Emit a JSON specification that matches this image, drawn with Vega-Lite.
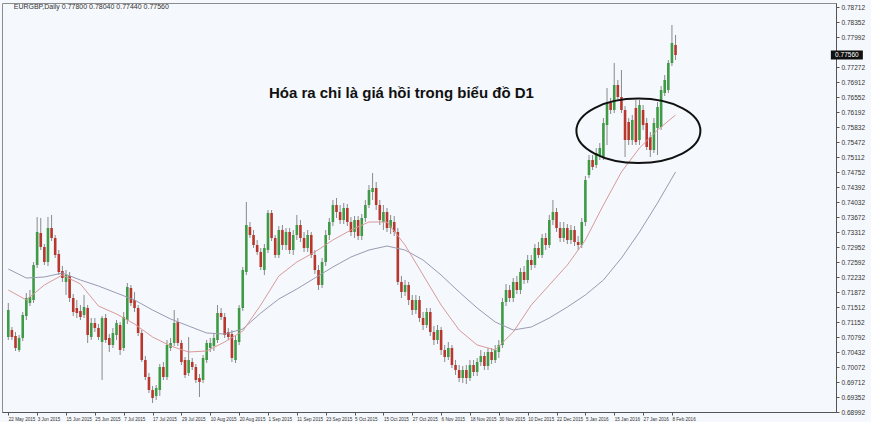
{
  "$schema": "https://vega.github.io/schema/vega-lite/v6.json",
  "width": 834,
  "height": 409,
  "autosize": "none",
  "padding": {"left": 2, "top": 3, "right": 35, "bottom": 10},
  "background": "#f5f8fc",
  "config": {"view": {"stroke": "#8c8c8c", "fill": "#f5f8fc"}, "font": "Liberation Sans", "axis": {"labelOverlap": false, "labelFlush": false, "labelBound": false}},
  "datasets": {
    "candles": [
      {"i":0,"o":0.70792,"h":0.71608,"l":0.70720,"c":0.71440},
      {"i":1,"o":0.70960,"h":0.71032,"l":0.70720,"c":0.70792},
      {"i":2,"o":0.70816,"h":0.70912,"l":0.70456,"c":0.70528},
      {"i":3,"o":0.70480,"h":0.70840,"l":0.70432,"c":0.70768},
      {"i":4,"o":0.70768,"h":0.71392,"l":0.70696,"c":0.71320},
      {"i":5,"o":0.71296,"h":0.71848,"l":0.71200,"c":0.71728},
      {"i":6,"o":0.71608,"h":0.71920,"l":0.71536,"c":0.71752},
      {"i":7,"o":0.71680,"h":0.72592,"l":0.71608,"c":0.72520},
      {"i":8,"o":0.72520,"h":0.73672,"l":0.72448,"c":0.73312},
      {"i":9,"o":0.73288,"h":0.73648,"l":0.72880,"c":0.72952},
      {"i":10,"o":0.72952,"h":0.73024,"l":0.72520,"c":0.72592},
      {"i":11,"o":0.72592,"h":0.73672,"l":0.72496,"c":0.73408},
      {"i":12,"o":0.73408,"h":0.73720,"l":0.73096,"c":0.73168},
      {"i":13,"o":0.73168,"h":0.73240,"l":0.72688,"c":0.72760},
      {"i":14,"o":0.72784,"h":0.72880,"l":0.72280,"c":0.72352},
      {"i":15,"o":0.72376,"h":0.72496,"l":0.72112,"c":0.72208},
      {"i":16,"o":0.72112,"h":0.72400,"l":0.71800,"c":0.72280},
      {"i":17,"o":0.72256,"h":0.72352,"l":0.71632,"c":0.71728},
      {"i":18,"o":0.71728,"h":0.71824,"l":0.71296,"c":0.71392},
      {"i":19,"o":0.71488,"h":0.71680,"l":0.71248,"c":0.71368},
      {"i":20,"o":0.71416,"h":0.71560,"l":0.71200,"c":0.71272},
      {"i":21,"o":0.71320,"h":0.71800,"l":0.71248,"c":0.71512},
      {"i":22,"o":0.71488,"h":0.71560,"l":0.70648,"c":0.70840},
      {"i":23,"o":0.70792,"h":0.71248,"l":0.70720,"c":0.71128},
      {"i":24,"o":0.71128,"h":0.71248,"l":0.70912,"c":0.71008},
      {"i":25,"o":0.71008,"h":0.71104,"l":0.70720,"c":0.70792},
      {"i":26,"o":0.70672,"h":0.71296,"l":0.69760,"c":0.71248},
      {"i":27,"o":0.71248,"h":0.71344,"l":0.70648,"c":0.70720},
      {"i":28,"o":0.70768,"h":0.70864,"l":0.70432,"c":0.70600},
      {"i":29,"o":0.70600,"h":0.71008,"l":0.70528,"c":0.70888},
      {"i":30,"o":0.70840,"h":0.71200,"l":0.70720,"c":0.71128},
      {"i":31,"o":0.71080,"h":0.71152,"l":0.70360,"c":0.70480},
      {"i":32,"o":0.70528,"h":0.71392,"l":0.70456,"c":0.71272},
      {"i":33,"o":0.71200,"h":0.72088,"l":0.71104,"c":0.71992},
      {"i":34,"o":0.71968,"h":0.72040,"l":0.71536,"c":0.71608},
      {"i":35,"o":0.71680,"h":0.71872,"l":0.71392,"c":0.71488},
      {"i":36,"o":0.71488,"h":0.71560,"l":0.70816,"c":0.70888},
      {"i":37,"o":0.70888,"h":0.70960,"l":0.70192,"c":0.70240},
      {"i":38,"o":0.70240,"h":0.70336,"l":0.69760,"c":0.69832},
      {"i":39,"o":0.69832,"h":0.69928,"l":0.69448,"c":0.69520},
      {"i":40,"o":0.69520,"h":0.69616,"l":0.69208,"c":0.69328},
      {"i":41,"o":0.69376,"h":0.69640,"l":0.69280,"c":0.69568},
      {"i":42,"o":0.69520,"h":0.70144,"l":0.69376,"c":0.70072},
      {"i":43,"o":0.70072,"h":0.70192,"l":0.69760,"c":0.69832},
      {"i":44,"o":0.69832,"h":0.70720,"l":0.69760,"c":0.70600},
      {"i":45,"o":0.70528,"h":0.70768,"l":0.70456,"c":0.70648},
      {"i":46,"o":0.70648,"h":0.71440,"l":0.70576,"c":0.71128},
      {"i":47,"o":0.71152,"h":0.71248,"l":0.70576,"c":0.70648},
      {"i":48,"o":0.70648,"h":0.70720,"l":0.70120,"c":0.70192},
      {"i":49,"o":0.70240,"h":0.70312,"l":0.69808,"c":0.69880},
      {"i":50,"o":0.69928,"h":0.70792,"l":0.69856,"c":0.70240},
      {"i":51,"o":0.70192,"h":0.70288,"l":0.70000,"c":0.70072},
      {"i":52,"o":0.70072,"h":0.70144,"l":0.69688,"c":0.69760},
      {"i":53,"o":0.69808,"h":0.69904,"l":0.69352,"c":0.69712},
      {"i":54,"o":0.69760,"h":0.70360,"l":0.69688,"c":0.70288},
      {"i":55,"o":0.70240,"h":0.70720,"l":0.70168,"c":0.70648},
      {"i":56,"o":0.70528,"h":0.70768,"l":0.70432,"c":0.70648},
      {"i":57,"o":0.70576,"h":0.70888,"l":0.70456,"c":0.70768},
      {"i":58,"o":0.70720,"h":0.71560,"l":0.70648,"c":0.71368},
      {"i":59,"o":0.71368,"h":0.71488,"l":0.71200,"c":0.71272},
      {"i":60,"o":0.71272,"h":0.71368,"l":0.70768,"c":0.70840},
      {"i":61,"o":0.70912,"h":0.71008,"l":0.70720,"c":0.70792},
      {"i":62,"o":0.70864,"h":0.70960,"l":0.70192,"c":0.70288},
      {"i":63,"o":0.70240,"h":0.70816,"l":0.70168,"c":0.70720},
      {"i":64,"o":0.70672,"h":0.71560,"l":0.70600,"c":0.71488},
      {"i":65,"o":0.71488,"h":0.72472,"l":0.71416,"c":0.72400},
      {"i":66,"o":0.72352,"h":0.74032,"l":0.72280,"c":0.73480},
      {"i":67,"o":0.73432,"h":0.73552,"l":0.73168,"c":0.73240},
      {"i":68,"o":0.73240,"h":0.73360,"l":0.72928,"c":0.73000},
      {"i":69,"o":0.73000,"h":0.73120,"l":0.72760,"c":0.72832},
      {"i":70,"o":0.72832,"h":0.72928,"l":0.72400,"c":0.72472},
      {"i":71,"o":0.72400,"h":0.73024,"l":0.72280,"c":0.72928},
      {"i":72,"o":0.72880,"h":0.73840,"l":0.72808,"c":0.73768},
      {"i":73,"o":0.73768,"h":0.73840,"l":0.73096,"c":0.73168},
      {"i":74,"o":0.73168,"h":0.73240,"l":0.72688,"c":0.72760},
      {"i":75,"o":0.72760,"h":0.73456,"l":0.72688,"c":0.73360},
      {"i":76,"o":0.73360,"h":0.73480,"l":0.72880,"c":0.73000},
      {"i":77,"o":0.73000,"h":0.73408,"l":0.72880,"c":0.73312},
      {"i":78,"o":0.73312,"h":0.73408,"l":0.72784,"c":0.72880},
      {"i":79,"o":0.72880,"h":0.73360,"l":0.72760,"c":0.73240},
      {"i":80,"o":0.73240,"h":0.73720,"l":0.73120,"c":0.73480},
      {"i":81,"o":0.73480,"h":0.73600,"l":0.73072,"c":0.73168},
      {"i":82,"o":0.73168,"h":0.73312,"l":0.72832,"c":0.72928},
      {"i":83,"o":0.72928,"h":0.73360,"l":0.72832,"c":0.73240},
      {"i":84,"o":0.73240,"h":0.73312,"l":0.72688,"c":0.72760},
      {"i":85,"o":0.72760,"h":0.72880,"l":0.72304,"c":0.72400},
      {"i":86,"o":0.72400,"h":0.72520,"l":0.71920,"c":0.72040},
      {"i":87,"o":0.72040,"h":0.72688,"l":0.71968,"c":0.72592},
      {"i":88,"o":0.72592,"h":0.73360,"l":0.72496,"c":0.73240},
      {"i":89,"o":0.73240,"h":0.73648,"l":0.73120,"c":0.73552},
      {"i":90,"o":0.73552,"h":0.74080,"l":0.73456,"c":0.73960},
      {"i":91,"o":0.73960,"h":0.74128,"l":0.73648,"c":0.73792},
      {"i":92,"o":0.73792,"h":0.73960,"l":0.73504,"c":0.73600},
      {"i":93,"o":0.73600,"h":0.74008,"l":0.73504,"c":0.73888},
      {"i":94,"o":0.73888,"h":0.73984,"l":0.73456,"c":0.73552},
      {"i":95,"o":0.73552,"h":0.73672,"l":0.73216,"c":0.73312},
      {"i":96,"o":0.73312,"h":0.73696,"l":0.73168,"c":0.73600},
      {"i":97,"o":0.73600,"h":0.73696,"l":0.73120,"c":0.73216},
      {"i":98,"o":0.73216,"h":0.73744,"l":0.73120,"c":0.73648},
      {"i":99,"o":0.73648,"h":0.74080,"l":0.73552,"c":0.73960},
      {"i":100,"o":0.73960,"h":0.74440,"l":0.73888,"c":0.74320},
      {"i":101,"o":0.74272,"h":0.74728,"l":0.74080,"c":0.74368},
      {"i":102,"o":0.74368,"h":0.74512,"l":0.73840,"c":0.73960},
      {"i":103,"o":0.73960,"h":0.74080,"l":0.73480,"c":0.73600},
      {"i":104,"o":0.73552,"h":0.73960,"l":0.73360,"c":0.73792},
      {"i":105,"o":0.73792,"h":0.73888,"l":0.73312,"c":0.73408},
      {"i":106,"o":0.73408,"h":0.73720,"l":0.73264,"c":0.73600},
      {"i":107,"o":0.73552,"h":0.73696,"l":0.73216,"c":0.73312},
      {"i":108,"o":0.73312,"h":0.73408,"l":0.72040,"c":0.72112},
      {"i":109,"o":0.72112,"h":0.72256,"l":0.71728,"c":0.71872},
      {"i":110,"o":0.71872,"h":0.72160,"l":0.71776,"c":0.72040},
      {"i":111,"o":0.72040,"h":0.72112,"l":0.71560,"c":0.71680},
      {"i":112,"o":0.71680,"h":0.71800,"l":0.71320,"c":0.71440},
      {"i":113,"o":0.71440,"h":0.71800,"l":0.71344,"c":0.71680},
      {"i":114,"o":0.71680,"h":0.71776,"l":0.71152,"c":0.71248},
      {"i":115,"o":0.71248,"h":0.71392,"l":0.70960,"c":0.71080},
      {"i":116,"o":0.71080,"h":0.71488,"l":0.71008,"c":0.71392},
      {"i":117,"o":0.71392,"h":0.71488,"l":0.70816,"c":0.70912},
      {"i":118,"o":0.70912,"h":0.71056,"l":0.70600,"c":0.70720},
      {"i":119,"o":0.70720,"h":0.71080,"l":0.70624,"c":0.70960},
      {"i":120,"o":0.70960,"h":0.71032,"l":0.70360,"c":0.70480},
      {"i":121,"o":0.70480,"h":0.70600,"l":0.70192,"c":0.70312},
      {"i":122,"o":0.70312,"h":0.70672,"l":0.70240,"c":0.70528},
      {"i":123,"o":0.70528,"h":0.70600,"l":0.70048,"c":0.70120},
      {"i":124,"o":0.70120,"h":0.70240,"l":0.69880,"c":0.70000},
      {"i":125,"o":0.70000,"h":0.70120,"l":0.69712,"c":0.69808},
      {"i":126,"o":0.69808,"h":0.70096,"l":0.69688,"c":0.70000},
      {"i":127,"o":0.70000,"h":0.70120,"l":0.69664,"c":0.69808},
      {"i":128,"o":0.69808,"h":0.70240,"l":0.69736,"c":0.70120},
      {"i":129,"o":0.70120,"h":0.70240,"l":0.69856,"c":0.69952},
      {"i":130,"o":0.69952,"h":0.70288,"l":0.69856,"c":0.70192},
      {"i":131,"o":0.70192,"h":0.70480,"l":0.70096,"c":0.70336},
      {"i":132,"o":0.70336,"h":0.70432,"l":0.70000,"c":0.70096},
      {"i":133,"o":0.70096,"h":0.70528,"l":0.70000,"c":0.70432},
      {"i":134,"o":0.70432,"h":0.70528,"l":0.70144,"c":0.70240},
      {"i":135,"o":0.70240,"h":0.70600,"l":0.70168,"c":0.70480},
      {"i":136,"o":0.70432,"h":0.70720,"l":0.70288,"c":0.70600},
      {"i":137,"o":0.70600,"h":0.71728,"l":0.70528,"c":0.71632},
      {"i":138,"o":0.71632,"h":0.72064,"l":0.71536,"c":0.71920},
      {"i":139,"o":0.71920,"h":0.72040,"l":0.71632,"c":0.71728},
      {"i":140,"o":0.71728,"h":0.72208,"l":0.71632,"c":0.72112},
      {"i":141,"o":0.72112,"h":0.72256,"l":0.71824,"c":0.71920},
      {"i":142,"o":0.71920,"h":0.72448,"l":0.71824,"c":0.72352},
      {"i":143,"o":0.72352,"h":0.72496,"l":0.72064,"c":0.72160},
      {"i":144,"o":0.72160,"h":0.72760,"l":0.72088,"c":0.72640},
      {"i":145,"o":0.72640,"h":0.72760,"l":0.72400,"c":0.72520},
      {"i":146,"o":0.72520,"h":0.73024,"l":0.72448,"c":0.72928},
      {"i":147,"o":0.72928,"h":0.73072,"l":0.72688,"c":0.72760},
      {"i":148,"o":0.72760,"h":0.73264,"l":0.72688,"c":0.73168},
      {"i":149,"o":0.73168,"h":0.73288,"l":0.72880,"c":0.73000},
      {"i":150,"o":0.73000,"h":0.73720,"l":0.72928,"c":0.73600},
      {"i":151,"o":0.73600,"h":0.74080,"l":0.73480,"c":0.73792},
      {"i":152,"o":0.73792,"h":0.73888,"l":0.73312,"c":0.73408},
      {"i":153,"o":0.73408,"h":0.73552,"l":0.73072,"c":0.73168},
      {"i":154,"o":0.73168,"h":0.73552,"l":0.73072,"c":0.73408},
      {"i":155,"o":0.73408,"h":0.73504,"l":0.73024,"c":0.73120},
      {"i":156,"o":0.73120,"h":0.73480,"l":0.73024,"c":0.73360},
      {"i":157,"o":0.73360,"h":0.73456,"l":0.72976,"c":0.73072},
      {"i":158,"o":0.73072,"h":0.73216,"l":0.72880,"c":0.73000},
      {"i":159,"o":0.73000,"h":0.73648,"l":0.72928,"c":0.73552},
      {"i":160,"o":0.73552,"h":0.74656,"l":0.73456,"c":0.74560},
      {"i":161,"o":0.74680,"h":0.75160,"l":0.74608,"c":0.75040},
      {"i":162,"o":0.75040,"h":0.75160,"l":0.74800,"c":0.74872},
      {"i":163,"o":0.74920,"h":0.75328,"l":0.74848,"c":0.75208},
      {"i":164,"o":0.75160,"h":0.75448,"l":0.75040,"c":0.75328},
      {"i":165,"o":0.75112,"h":0.76048,"l":0.75040,"c":0.75928},
      {"i":166,"o":0.75880,"h":0.76768,"l":0.75400,"c":0.76408},
      {"i":167,"o":0.76408,"h":0.76528,"l":0.76144,"c":0.76240},
      {"i":168,"o":0.76240,"h":0.77368,"l":0.76168,"c":0.76840},
      {"i":169,"o":0.76840,"h":0.76960,"l":0.76480,"c":0.76552},
      {"i":170,"o":0.76552,"h":0.77200,"l":0.76168,"c":0.76240},
      {"i":171,"o":0.76240,"h":0.76336,"l":0.75112,"c":0.75520},
      {"i":172,"o":0.75952,"h":0.76048,"l":0.75400,"c":0.75520},
      {"i":173,"o":0.75520,"h":0.76120,"l":0.75400,"c":0.76000},
      {"i":174,"o":0.76288,"h":0.76480,"l":0.75400,"c":0.75472},
      {"i":175,"o":0.75520,"h":0.76480,"l":0.75400,"c":0.76360},
      {"i":176,"o":0.76240,"h":0.76360,"l":0.75760,"c":0.75880},
      {"i":177,"o":0.75928,"h":0.76048,"l":0.75280,"c":0.75352},
      {"i":178,"o":0.75592,"h":0.75712,"l":0.75112,"c":0.75280},
      {"i":179,"o":0.75280,"h":0.76048,"l":0.75208,"c":0.75928},
      {"i":180,"o":0.75808,"h":0.76432,"l":0.75160,"c":0.76312},
      {"i":181,"o":0.75832,"h":0.76816,"l":0.75760,"c":0.76720},
      {"i":182,"o":0.76648,"h":0.77080,"l":0.76576,"c":0.76960},
      {"i":183,"o":0.76720,"h":0.77440,"l":0.76648,"c":0.77368},
      {"i":184,"o":0.77368,"h":0.78280,"l":0.77296,"c":0.77848},
      {"i":185,"o":0.77800,"h":0.78040,"l":0.77440,"c":0.77560}
    ],
    "ma": [
      {"i":0,"slow":0.72424,"fast":0.71920},
      {"i":5,"slow":0.72208,"fast":0.71680},
      {"i":10,"slow":0.72232,"fast":0.72040},
      {"i":15,"slow":0.72328,"fast":0.72280},
      {"i":20,"slow":0.72160,"fast":0.72064},
      {"i":25,"slow":0.72016,"fast":0.71536},
      {"i":30,"slow":0.71848,"fast":0.71344},
      {"i":35,"slow":0.71680,"fast":0.71104},
      {"i":40,"slow":0.71440,"fast":0.70792},
      {"i":45,"slow":0.71224,"fast":0.70576},
      {"i":50,"slow":0.71056,"fast":0.70432},
      {"i":55,"slow":0.70888,"fast":0.70456},
      {"i":60,"slow":0.70864,"fast":0.70672},
      {"i":65,"slow":0.70984,"fast":0.70936},
      {"i":70,"slow":0.71368,"fast":0.71560},
      {"i":75,"slow":0.71704,"fast":0.72256},
      {"i":80,"slow":0.71944,"fast":0.72592},
      {"i":85,"slow":0.72208,"fast":0.72832},
      {"i":90,"slow":0.72472,"fast":0.73120},
      {"i":95,"slow":0.72712,"fast":0.73360},
      {"i":100,"slow":0.72880,"fast":0.73552},
      {"i":105,"slow":0.72976,"fast":0.73552},
      {"i":110,"slow":0.72880,"fast":0.73000},
      {"i":115,"slow":0.72640,"fast":0.72280},
      {"i":120,"slow":0.72280,"fast":0.71560},
      {"i":125,"slow":0.71872,"fast":0.70960},
      {"i":130,"slow":0.71488,"fast":0.70600},
      {"i":135,"slow":0.71152,"fast":0.70480},
      {"i":140,"slow":0.70960,"fast":0.70912},
      {"i":145,"slow":0.71032,"fast":0.71560},
      {"i":150,"slow":0.71248,"fast":0.72040},
      {"i":155,"slow":0.71512,"fast":0.72520},
      {"i":160,"slow":0.71800,"fast":0.73120},
      {"i":165,"slow":0.72160,"fast":0.73960},
      {"i":170,"slow":0.72688,"fast":0.74752},
      {"i":175,"slow":0.73312,"fast":0.75328},
      {"i":180,"slow":0.74008,"fast":0.75760},
      {"i":185,"slow":0.74752,"fast":0.76120}
    ]
  },
  "layer": [
    {
      "data": {"name": "candles"},
      "mark": {"type": "rule", "color": "#8a8a8a", "strokeWidth": 1},
      "encoding": {
        "x": {"field": "i", "type": "quantitative",
              "scale": {"domain": [-0.36, 228.1], "nice": false, "zero": false},
              "axis": {"orient": "bottom", "title": null, "grid": false, "tickCount": 200,
                       "values": [0,8,16,24,32,40,48,56,64,72,80,88,96,104,112,120,128,136,144,152,160,168,176,184],
                       "labelExpr": "['22 May 2015','3 Jun 2015','15 Jun 2015','25 Jun 2015','7 Jul 2015','17 Jul 2015','29 Jul 2015','10 Aug 2015','20 Aug 2015','1 Sep 2015','11 Sep 2015','23 Sep 2015','5 Oct 2015','15 Oct 2015','27 Oct 2015','6 Nov 2015','18 Nov 2015','30 Nov 2015','10 Dec 2015','22 Dec 2015','5 Jan 2016','15 Jan 2016','27 Jan 2016','8 Feb 2016'][round(datum.value/8)]",
                       "labelFontSize": 4.6, "labelColor": "#333333", "labelAlign": "left", "labelPadding": 1,
                       "labelOverlap": false, "labelFlush": false, "tickSize": 3, "tickColor": "#555555", "domainColor": "#555555"}},
        "y": {"field": "l", "type": "quantitative",
              "scale": {"domain": [0.68992, 0.78808], "nice": false, "zero": false},
              "axis": {"orient": "right", "title": null, "grid": false, "format": ".5f", "tickCount": 200,
                       "values": [0.78712,0.78352,0.77992,0.77272,0.76912,0.76552,0.76192,0.75832,0.75472,0.75112,0.74752,0.74392,0.74032,0.73672,0.73312,0.72952,0.72592,0.72232,0.71872,0.71512,0.71152,0.70792,0.70432,0.70072,0.69712,0.69352,0.68992],
                       "labelFontSize": 6.5, "labelColor": "#333333", "labelPadding": 2, "labelOverlap": false,
                       "labelFlush": false, "tickSize": 3, "tickColor": "#555555", "domainColor": "#555555"}},
        "y2": {"field": "h"}
      }
    },
    {
      "data": {"name": "candles"},
      "mark": {"type": "bar", "size": 2.6},
      "encoding": {
        "x": {"field": "i", "type": "quantitative", "title": null},
        "y": {"field": "o", "type": "quantitative", "title": null},
        "y2": {"field": "c"},
        "color": {"condition": {"test": "datum.c >= datum.o", "value": "#3f9a45"}, "value": "#b7372c"}
      }
    },
    {
      "data": {"name": "ma"},
      "mark": {"type": "line", "color": "#9a9ab2", "strokeWidth": 1},
      "encoding": {
        "x": {"field": "i", "type": "quantitative", "title": null},
        "y": {"field": "slow", "type": "quantitative", "title": null}
      }
    },
    {
      "data": {"name": "ma"},
      "mark": {"type": "line", "color": "#d99a9a", "strokeWidth": 1},
      "encoding": {
        "x": {"field": "i", "type": "quantitative", "title": null},
        "y": {"field": "fast", "type": "quantitative", "title": null}
      }
    },
    {
      "data": {"values": [{"note": "ellipse"}]},
      "mark": {"type": "point", "shape": "M-1,0A1,0.52,0,1,0,1,0A1,0.52,0,1,0,-1,0Z", "size": 15376, "filled": false, "stroke": "#111111", "strokeWidth": 2, "opacity": 1},
      "encoding": {
        "x": {"datum": 174.7, "type": "quantitative", "title": null},
        "y": {"datum": 0.7574, "type": "quantitative", "title": null}
      }
    },
    {
      "data": {"values": [{"label": "Hóa ra chỉ là giá hồi trong biểu đồ D1"}]},
      "mark": {"type": "text", "font": "Liberation Sans", "fontSize": 15, "fontWeight": "bold", "color": "#111111", "align": "center", "baseline": "middle"},
      "encoding": {
        "x": {"datum": 109, "type": "quantitative", "title": null},
        "y": {"datum": 0.76648, "type": "quantitative", "title": null},
        "text": {"field": "label"}
      }
    },
    {
      "data": {"values": [{"label": "EURGBP,Daily  0.77800 0.78040 0.77440 0.77560"}]},
      "mark": {"type": "text", "fontSize": 7, "color": "#333333", "align": "left", "baseline": "middle"},
      "encoding": {
        "x": {"datum": 1.5, "type": "quantitative", "title": null},
        "y": {"datum": 0.78712, "type": "quantitative", "title": null},
        "text": {"field": "label"}
      }
    },
    {
      "data": {"name": "candles"},
      "transform": [{"filter": "datum.i == 185"}],
      "mark": {"type": "point", "shape": "M-1,-0.28H1V0.28H-1Z", "size": 1024, "filled": true, "color": "#111111", "opacity": 1},
      "encoding": {
        "x": {"datum": 232.5, "type": "quantitative", "title": null},
        "y": {"field": "c", "type": "quantitative", "title": null}
      }
    },
    {
      "data": {"name": "candles"},
      "transform": [{"filter": "datum.i == 185"}],
      "mark": {"type": "text", "fontSize": 6.5, "color": "#ffffff", "align": "center", "baseline": "middle"},
      "encoding": {
        "x": {"datum": 232.5, "type": "quantitative", "title": null},
        "y": {"field": "c", "type": "quantitative", "title": null},
        "text": {"field": "c", "format": ".5f"}
      }
    }
  ]
}
